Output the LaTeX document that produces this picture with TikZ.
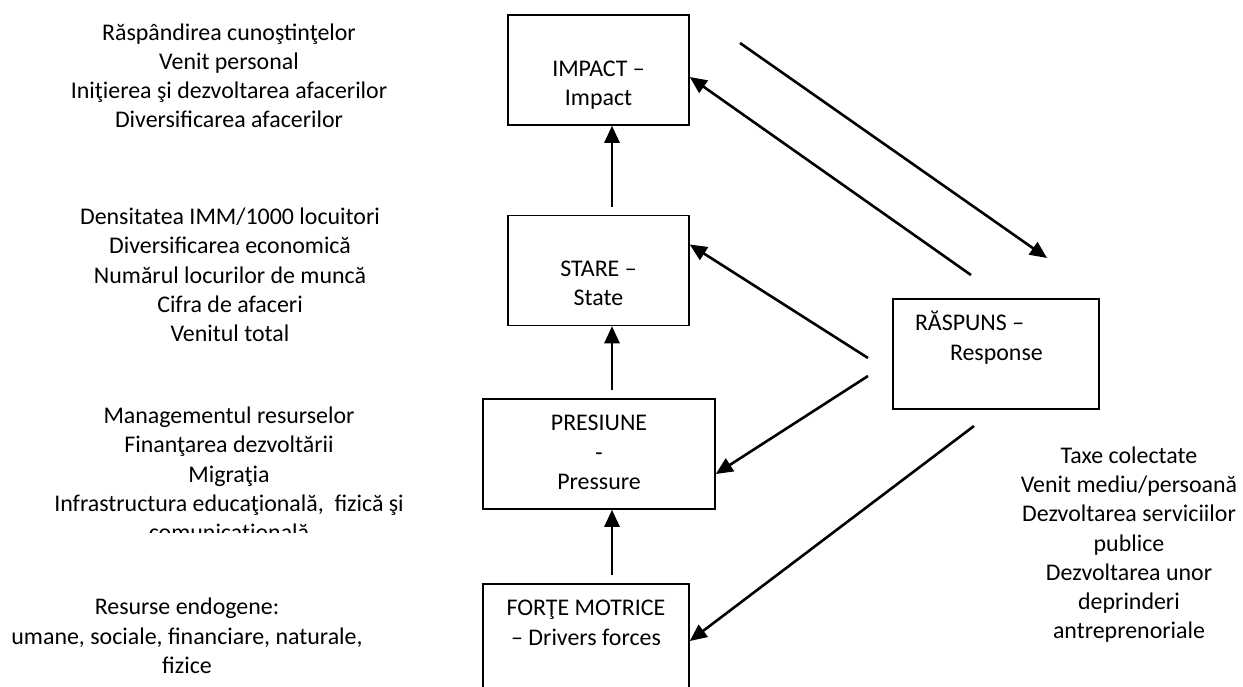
\documentclass[tikz,border=0pt]{standalone}
\usepackage{fontspec}
\setmainfont{Carlito}
\usepackage{tikz}
\usetikzlibrary{positioning,calc,arrows.meta}
\setlength{\parindent}{0pt}
\newcommand{\upstrut}{\rule{0pt}{20.6pt}}
\newcommand{\downstrut}{\rule[-8.6pt]{0pt}{8.6pt}}

\begin{document}
\begin{tikzpicture}[
x=1pt, y=-1pt,
every node/.style={font=\fontsize{23.9}{29.2}\selectfont},
box/.style={rectangle, draw=black, line width=1.5pt, text width=#1, minimum height=110pt, align=flush center, inner sep=0pt, execute at begin node=\upstrut, execute at end node=\downstrut},
indic/.style={text width=#1, align=flush center, inner sep=0pt, execute at begin node=\upstrut, execute at end node=\downstrut},
link/.style={line width=2.6pt, -{Triangle[length=17pt, width=15pt]}},
]
\useasboundingbox (0,0) rectangle (1243,686);

\node[box=181pt] (I) at (598.5,70) {\mbox{}\\IMPACT –\\Impact};
\node[box=181pt] (S) at (598.5,270.5) {\mbox{}\\STARE –\\State};
\node[box=232pt] (P) at (599,454) {PRESIUNE\\-\\Pressure};
\node[box=206pt] (F) at (586,639) {FORŢE MOTRICE\\– Drivers forces\\\mbox{}};
\node[box=162pt, inner xsep=22pt, align=flush left] (R) at (996,354) {RĂSPUNS –\\\hspace*{35pt}Response\\\mbox{}};

\node[indic=420pt] (T1) at (229,78) {Răspândirea cunoştinţelor\\Venit personal\\Iniţierea şi dezvoltarea afacerilor\\Diversificarea afacerilor};
\node[indic=420pt] (T2) at (230,277) {Densitatea IMM/1000 locuitori\\Diversificarea economică\\Numărul locurilor de muncă\\Cifra de afaceri\\Venitul total};
\begin{scope}
\clip (0,380) rectangle (470,532);
\node[indic=420pt] (T3) at (229,476) {Managementul resurselor\\Finanţarea dezvoltării\\Migraţia\\Infrastructura educaţională,\ \ fizică şi\\comunicaţională};
\end{scope}
\node[indic=420pt] (T4) at (187,638) {Resurse endogene:\\umane, sociale, financiare, naturale,\\fizice};
\node[indic=240pt] (T5) at (1129,545) {Taxe colectate\\Venit mediu/persoană\\Dezvoltarea serviciilor\\publice\\Dezvoltarea unor\\deprinderi\\antreprenoriale};

\draw[link, shorten <=8pt] ([xshift=13.5pt]S.north) -- ([xshift=13.5pt]I.south);
\draw[link, shorten <=8pt] ([xshift=13pt]P.north) -- ([xshift=13.5pt]S.south);
\draw[link, shorten <=8pt] ([xshift=26pt]F.north) -- ([xshift=13pt]P.south);

\coordinate (a1) at (740,43);
\coordinate (a2) at (1047,258);
\coordinate (r1) at (971,275);
\coordinate (r2) at (868,358);
\coordinate (r3) at (868,376);
\coordinate (r4) at (974,426);
\draw[link] (a1) -- (a2);
\draw[link] (r1) -- ([yshift=-7pt]I.east);
\draw[link] (r2) -- ([yshift=26pt]S.east);
\draw[link] (r3) -- ([yshift=-20pt]P.east);
\draw[link] (r4) -- ([yshift=-2pt]F.east);
\end{tikzpicture}
\end{document}
